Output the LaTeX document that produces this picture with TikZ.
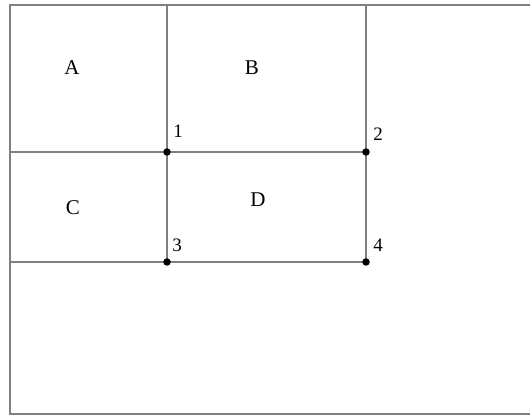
\documentclass[tikz,border=0pt]{standalone}
\usepackage{fontspec}
\setmainfont{Liberation Serif}
\begin{document}
\begin{tikzpicture}[x=1pt,y=1pt,
  gridline/.style={draw=black!50, line width=1.3pt},
  lbl/.style={font=\fontsize{21}{21}\selectfont, inner sep=0pt},
  num/.style={font=\fontsize{19}{19}\selectfont, inner sep=0pt},
  dot/.style={circle, fill=black, inner sep=0pt, minimum size=7.5pt}]
\useasboundingbox (0,0) rectangle (530,417);
\coordinate (tl) at (10,412);
\coordinate (bl) at (10,3);
\coordinate (tr) at (530,412);
\coordinate (br) at (530,3);
\coordinate (t1) at (167,412);
\coordinate (t2) at (366,412);
\coordinate (m0) at (10,265);
\coordinate (b0) at (10,155);
\coordinate (c1) at (167,265);
\coordinate (c2) at (366,265);
\coordinate (c3) at (167,155);
\coordinate (c4) at (366,155);
\draw[gridline] (tr) -- (tl) -- (bl) -- (br);
\draw[gridline] (t1) -- (c1) -- (c3);
\draw[gridline] (t2) -- (c2) -- (c4);
\draw[gridline] (m0) -- (c1) -- (c2);
\draw[gridline] (b0) -- (c3) -- (c4);
\node[dot] (p1) at (c1) {};
\node[dot] (p2) at (c2) {};
\node[dot] (p3) at (c3) {};
\node[dot] (p4) at (c4) {};
\node[lbl] (A) at (72,349) {A};
\node[lbl] (B) at (252,349) {B};
\node[lbl] (C) at (73,209) {C};
\node[lbl] (D) at (258,217) {D};
\node[num] (n1) at (178,286) {1};
\node[num] (n2) at (378,283) {2};
\node[num] (n3) at (177,172) {3};
\node[num] (n4) at (378,172) {4};
\end{tikzpicture}
\end{document}
